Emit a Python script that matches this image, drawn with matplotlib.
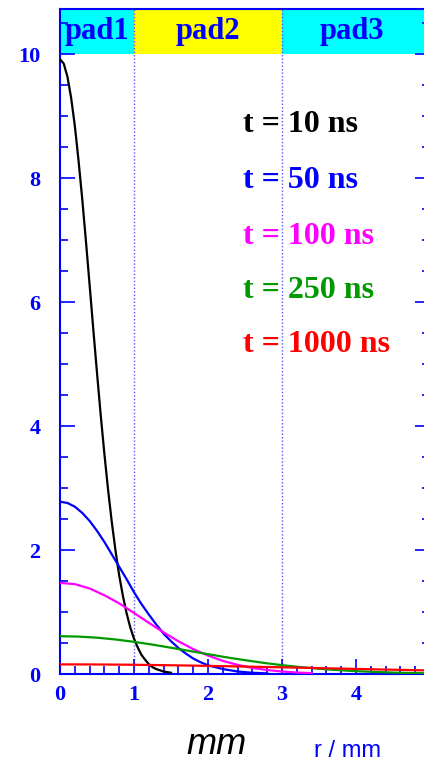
import numpy as np
import matplotlib.pyplot as plt
from matplotlib.ticker import MultipleLocator

# radial charge profiles (r in mm)
r_10 = [0.0, 0.05, 0.1, 0.15, 0.2, 0.25, 0.3, 0.35, 0.4, 0.45, 0.5, 0.55, 0.6, 0.65, 0.7,
        0.75, 0.8, 0.85, 0.9, 0.95, 1.0, 1.05, 1.1, 1.15, 1.2, 1.25, 1.3, 1.4, 1.5]
q_10 = [9.92, 9.85, 9.64, 9.30, 8.85, 8.29, 7.67, 6.99, 6.28, 5.56, 4.86, 4.18, 3.55, 2.97, 2.45,
        1.99, 1.59, 1.26, 0.98, 0.75, 0.57, 0.43, 0.31, 0.23, 0.16, 0.11, 0.08, 0.04, 0.02]

r_50 = [0.0, 0.1, 0.2, 0.3, 0.4, 0.5, 0.6, 0.7, 0.8, 0.9, 1.0, 1.1, 1.2, 1.3, 1.4,
        1.5, 1.6, 1.7, 1.8, 1.9, 2.0, 2.2, 2.4, 2.6, 2.8]
q_50 = [2.78, 2.76, 2.70, 2.60, 2.47, 2.31, 2.13, 1.93, 1.73, 1.53, 1.32, 1.13, 0.96, 0.80, 0.65,
        0.53, 0.42, 0.33, 0.25, 0.19, 0.14, 0.08, 0.04, 0.02, 0.01]

r_100 = [0.0, 0.2, 0.4, 0.6, 0.8, 1.0, 1.2, 1.4, 1.6, 1.8, 2.0, 2.2, 2.4, 2.6, 2.8, 3.0, 3.2, 3.4]
q_100 = [1.47, 1.45, 1.38, 1.27, 1.14, 0.985, 0.826, 0.671, 0.528, 0.402, 0.297, 0.212, 0.147,
         0.098, 0.064, 0.040, 0.024, 0.014]

r_250 = [0.0, 0.25, 0.5, 0.75, 1.0, 1.25, 1.5, 1.75, 2.0, 2.25, 2.5, 2.75, 3.0, 3.25, 3.5,
         3.75, 4.0, 4.25, 4.5, 4.75, 5.0]
q_250 = [0.61, 0.604, 0.586, 0.557, 0.519, 0.474, 0.424, 0.372, 0.320, 0.269, 0.223, 0.180,
         0.143, 0.111, 0.085, 0.063, 0.046, 0.033, 0.023, 0.016, 0.011]

r_1000 = [0.0, 0.5, 1.0, 1.5, 2.0, 2.5, 3.0, 3.5, 4.0, 4.5, 5.0]
q_1000 = [0.155, 0.154, 0.149, 0.141, 0.131, 0.120, 0.108, 0.095, 0.082, 0.069, 0.057]

labels = ["t = 10 ns", "t = 50 ns", "t = 100 ns", "t = 250 ns", "t = 1000 ns"]
colors = ["black", "#0000ff", "#ff00ff", "#009900", "#ff0000"]

pads = ["pad1", "pad2", "pad3"]
pad_edges = [0, 1, 3, 5]
pad_centers = [0.5, 2.0, 3.95]
pad_colors = ["#00ffff", "#ffff00", "#00ffff"]

W, H = 424, 764
fig = plt.figure(figsize=(W / 100, H / 100), dpi=100)
x0, x1 = 60, 430
y0, y1 = 674, 9
ax = fig.add_axes([x0 / W, 1 - y0 / H, (x1 - x0) / W, (y0 - y1) / H])
ax.set_xlim(0, 5)
ax.set_ylim(0, 10.73)

# pad band on top
for i, name in enumerate(pads):
    ax.axvspan(pad_edges[i], pad_edges[i + 1], ymin=10 / 10.73, ymax=1,
               color=pad_colors[i], lw=0, zorder=0)
    ax.text(pad_centers[i], 10.36, name, ha="center", va="center", color="#0000ff",
            fontsize=22, fontweight="bold", family="Liberation Serif")

for xv in [1, 3]:
    ax.axvline(xv, color="#5555ff", ls=(0, (1, 1.5)), lw=1, zorder=1)

series = [(r_10, q_10), (r_50, q_50), (r_100, q_100), (r_250, q_250), (r_1000, q_1000)]
for (r, q), c in zip(series, colors):
    ax.plot(r, q, color=c, lw=1.6, zorder=3)

label_y = [125, 181, 236, 291, 345]
for lab, c, py in zip(labels, colors, label_y):
    ax.text(243, H - py, lab, transform=None, color=c, fontsize=23, fontweight="bold",
            family="Liberation Serif", va="center", ha="left")

for s in ax.spines.values():
    s.set_color("#0000ff")
    s.set_linewidth(1.5)

ax.xaxis.set_major_locator(MultipleLocator(1))
ax.xaxis.set_minor_locator(MultipleLocator(0.2))
ax.yaxis.set_major_locator(MultipleLocator(2))
ax.yaxis.set_minor_locator(MultipleLocator(0.5))
ax.tick_params(which="both", direction="in", colors="#0000ff", right=True, top=False,
               width=1.2)
ax.tick_params(which="major", length=11)
ax.tick_params(which="minor", length=6)
ax.tick_params(axis="y", pad=14)
ax.tick_params(axis="x", pad=8)
ax.set_xticks([0, 1, 2, 3, 4])
ax.set_yticks([0, 2, 4, 6, 8, 10])
for t in ax.get_xticklabels() + ax.get_yticklabels():
    t.set_fontfamily("Liberation Serif")
    t.set_fontweight("bold")
    t.set_fontsize(16)
    t.set_color("#0000ff")

fig.text(217 / W, 1 - 754 / H, "mm", fontsize=26, style="italic", color="black",
         family="Liberation Sans", ha="center", va="baseline")
fig.text(347 / W, 1 - 751 / H, "r / mm", fontsize=17, color="#0000ff",
         family="Liberation Sans", ha="center", va="center")

fig.savefig("out.png", dpi=100)
